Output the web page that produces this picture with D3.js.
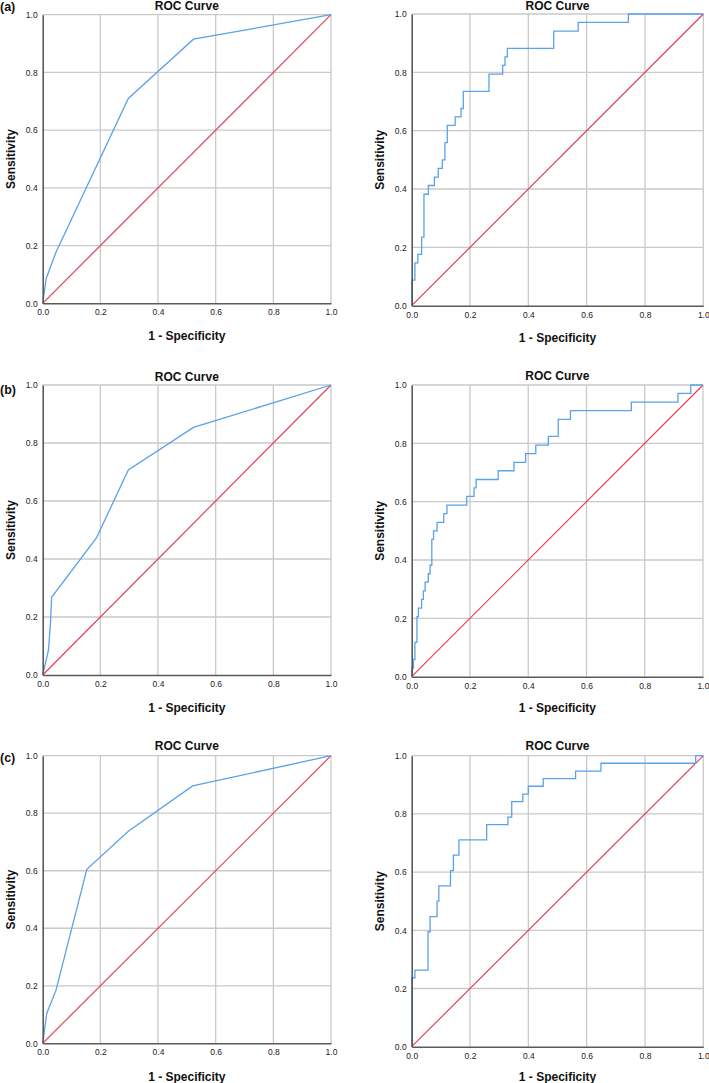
<!DOCTYPE html>
<html><head><meta charset="utf-8">
<script src="https://cdn.jsdelivr.net/npm/d3@7/dist/d3.min.js"></script>
<style>body{margin:0;background:#fff}svg{display:block}text{font-family:"Liberation Sans",Arial,sans-serif}</style>
</head><body><div id="chart"></div>
<script>
const ticks = [0, 0.2, 0.4, 0.6, 0.8, 1.0];
const tickLabels = ["0.0", "0.2", "0.4", "0.6", "0.8", "1.0"];
const panelLabels = ["(a)", "(b)", "(c)"];
const titleText = "ROC Curve";
const xLabelText = "1 - Specificity";
const yLabelText = "Sensitivity";

// Row (a)
const aLeftFpr = [0, 0.012, 0.046, 0.297, 0.523, 1.0];
const aLeftTpr = [0, 0.085, 0.177, 0.710, 0.915, 1.0];
const aRightFpr = [0, 0.011, 0.021, 0.034, 0.042, 0.057, 0.078, 0.091, 0.105, 0.114, 0.122, 0.149, 0.169, 0.177, 0.265, 0.312, 0.320, 0.328, 0.487, 0.571, 0.743, 1.0];
const aRightTpr = [0, 0.088, 0.147, 0.176, 0.235, 0.382, 0.412, 0.441, 0.471, 0.500, 0.559, 0.618, 0.647, 0.676, 0.735, 0.794, 0.824, 0.853, 0.882, 0.941, 0.971, 1.0];
// Row (b)
const bLeftFpr = [0, 0.020, 0.027, 0.031, 0.187, 0.297, 0.523, 1.0];
const bLeftTpr = [0, 0.086, 0.180, 0.268, 0.474, 0.707, 0.854, 1.0];
const bRightFpr = [0, 0.006, 0.011, 0.018, 0.023, 0.034, 0.040, 0.046, 0.057, 0.063, 0.069, 0.075, 0.087, 0.110, 0.121, 0.189, 0.214, 0.221, 0.297, 0.351, 0.391, 0.426, 0.469, 0.503, 0.545, 0.754, 0.914, 0.958, 1.0];
const bRightTpr = [0, 0.029, 0.059, 0.118, 0.206, 0.235, 0.265, 0.294, 0.324, 0.353, 0.382, 0.471, 0.500, 0.529, 0.559, 0.588, 0.618, 0.647, 0.676, 0.706, 0.735, 0.765, 0.794, 0.824, 0.882, 0.912, 0.941, 0.971, 1.0];
// Row (c)
const cLeftFpr = [0, 0.014, 0.046, 0.153, 0.297, 0.520, 1.0];
const cLeftTpr = [0, 0.104, 0.184, 0.605, 0.737, 0.895, 1.0];
const cRightFpr = [0, 0.011, 0.056, 0.063, 0.087, 0.093, 0.133, 0.143, 0.162, 0.257, 0.330, 0.343, 0.381, 0.400, 0.451, 0.562, 0.649, 0.974, 1.0];
const cRightTpr = [0, 0.237, 0.263, 0.395, 0.447, 0.500, 0.553, 0.605, 0.658, 0.711, 0.763, 0.789, 0.842, 0.868, 0.895, 0.921, 0.947, 0.974, 1.0];
const refFpr = [0, 1];
const refTpr = [0, 1];

const panels = [
  {fpr: aLeftFpr, tpr: aLeftTpr, step: false, x0: 42.7, x1: 331, yb: 303.3, yt: 14.7, label: panelLabels[0], labY: 11, titleY: 10, xlabY: 340},
  {fpr: aRightFpr, tpr: aRightTpr, step: true, x0: 411.7, x1: 703.3, yb: 305.7, yt: 14, label: null, titleY: 10, xlabY: 342},
  {fpr: bLeftFpr, tpr: bLeftTpr, step: false, x0: 42.7, x1: 331, yb: 675, yt: 385, label: panelLabels[1], labY: 394, titleY: 381, xlabY: 712},
  {fpr: bRightFpr, tpr: bRightTpr, step: true, x0: 411.7, x1: 703, yb: 676.7, yt: 385, label: null, titleY: 380, xlabY: 712},
  {fpr: cLeftFpr, tpr: cLeftTpr, step: false, x0: 42.7, x1: 331, yb: 1043.3, yt: 755.7, label: panelLabels[2], labY: 762, titleY: 750, xlabY: 1081},
  {fpr: cRightFpr, tpr: cRightTpr, step: true, x0: 411.7, x1: 703.3, yb: 1046.7, yt: 755.7, label: null, titleY: 750, xlabY: 1081}
];

const svg = d3.select("#chart").append("svg").attr("width", 709).attr("height", 1083);

panels.forEach(p => {
  const x = d3.scaleLinear().domain([0, 1]).range([p.x0, p.x1]);
  const y = d3.scaleLinear().domain([0, 1]).range([p.yb, p.yt]);
  const g = svg.append("g");

  g.append("g").selectAll("line").data(ticks.slice(1)).join("line")
    .attr("x1", d => x(d)).attr("x2", d => x(d)).attr("y1", y(0)).attr("y2", y(1))
    .attr("stroke", "#c9c9c9").attr("stroke-width", 1.3);
  g.append("g").selectAll("line").data(ticks.slice(1)).join("line")
    .attr("y1", d => y(d)).attr("y2", d => y(d)).attr("x1", x(0)).attr("x2", x(1))
    .attr("stroke", "#c9c9c9").attr("stroke-width", 1.3);

  const line = d3.line().x(d => x(d[0])).y(d => y(d[1]));
  g.append("path").datum(d3.zip(refFpr, refTpr)).attr("d", line)
    .attr("fill", "none").attr("stroke", "#e0425c").attr("stroke-width", 1.2);

  const rocLine = d3.line().x(d => x(d[0])).y(d => y(d[1])).curve(p.step ? d3.curveStepBefore : d3.curveLinear);
  g.append("path").datum(d3.zip(p.fpr, p.tpr)).attr("d", rocLine)
    .attr("fill", "none").attr("stroke", "#5aa2ea").attr("stroke-width", 1.3);

  const xAxis = d3.axisBottom(x).tickValues(ticks).tickFormat((d, i) => tickLabels[i]).tickSize(0).tickPadding(6);
  const yAxis = d3.axisLeft(y).tickValues(ticks).tickFormat((d, i) => tickLabels[i]).tickSize(0).tickPadding(5);
  const gx = g.append("g").attr("transform", `translate(0,${p.yb})`).call(xAxis);
  const gy = g.append("g").attr("transform", `translate(${p.x0},0)`).call(yAxis);
  [gx, gy].forEach(a => {
    a.select(".domain").attr("stroke", "#5a5a5a").attr("stroke-width", 1.6);
    a.selectAll("text").attr("font-size", 8.5).attr("fill", "#222").attr("font-family", "Liberation Sans, Arial, sans-serif");
  });

  g.append("text").attr("x", (p.x0 + p.x1) / 2).attr("y", p.titleY).attr("text-anchor", "middle")
    .attr("font-size", 12).attr("font-weight", "bold").attr("fill", "#111").text(titleText);
  g.append("text").attr("x", (p.x0 + p.x1) / 2).attr("y", p.xlabY).attr("text-anchor", "middle")
    .attr("font-size", 12).attr("font-weight", "bold").attr("fill", "#111").text(xLabelText);
  const yc = (p.yb + p.yt) / 2;
  const ylx = p.x0 - 28;
  g.append("text").attr("transform", `translate(${ylx},${yc}) rotate(-90)`).attr("text-anchor", "middle")
    .attr("font-size", 12).attr("font-weight", "bold").attr("fill", "#111").text(yLabelText);
  if (p.label) {
    g.append("text").attr("x", 0).attr("y", p.labY).attr("font-size", 12.5).attr("font-weight", "bold")
      .attr("fill", "#111").text(p.label);
  }
});
</script></body></html>
